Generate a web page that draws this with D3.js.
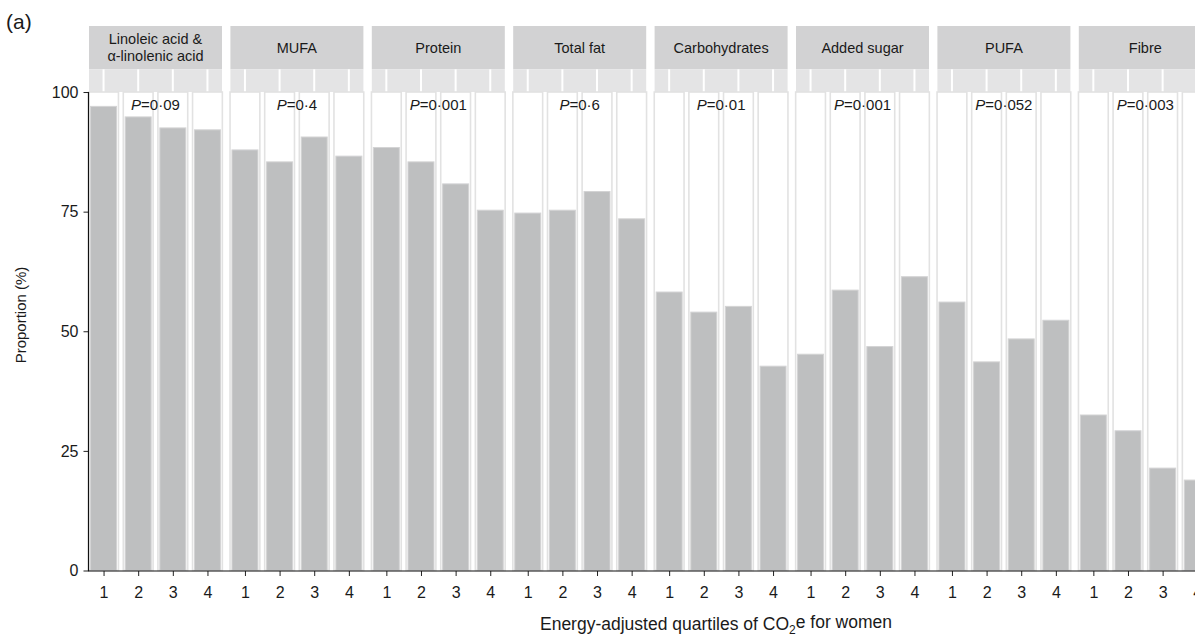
<!DOCTYPE html>
<html>
<head>
<meta charset="utf-8">
<script src="https://cdn.jsdelivr.net/npm/d3@7"></script>
<style>
  body { margin: 0; background: #fff; }
  svg { display: block; font-family: "Liberation Sans", Arial, Helvetica, sans-serif; }
</style>
</head>
<body>
<svg id="chart" width="1195" height="636"></svg>
<script>
// Data (proportion %, by energy-adjusted CO2e quartile)
const nutrients = ["Linoleic acid &|\u03b1-linolenic acid", "MUFA", "Protein", "Total fat",
                   "Carbohydrates", "Added sugar", "PUFA", "Fibre"];
const quartiles = ["1", "2", "3", "4"];
const linoleic = [97.0, 94.8, 92.5, 92.1];
const mufa = [87.9, 85.4, 90.6, 86.6];
const protein = [88.4, 85.4, 80.8, 75.3];
const totalFat = [74.7, 75.3, 79.2, 73.5];
const carbohydrates = [58.2, 54.0, 55.2, 42.7];
const addedSugar = [45.2, 58.6, 46.8, 61.4];
const pufa = [56.1, 43.6, 48.4, 52.3];
const fibre = [32.5, 29.2, 21.4, 18.9];
const pValues = ["0\u00b709", "0\u00b74", "0\u00b7001", "0\u00b76", "0\u00b701", "0\u00b7001", "0\u00b7052", "0\u00b7003"];
const yTicks = [0, 25, 50, 75, 100];

const seriesValues = [linoleic, mufa, protein, totalFat, carbohydrates, addedSugar, pufa, fibre];

// Layout
const PANEL_LEFT = 89;
const FACET_STEP = 141.4;
const PANEL_W = 133;
const STRIP_TOP = 26;
const PANEL_TOP = 69.3;
const PANEL_BOTTOM = 570.5;

const svg = d3.select("#chart");

const facetX = d3.scaleBand()
    .domain(nutrients)
    .range([PANEL_LEFT, PANEL_LEFT + FACET_STEP * nutrients.length - (FACET_STEP - PANEL_W)])
    .paddingInner((FACET_STEP - PANEL_W) / FACET_STEP)
    .paddingOuter(0);

const xInner = d3.scalePoint()
    .domain(quartiles)
    .range([0, facetX.bandwidth()])
    .padding(0.42);

const y = d3.scaleLinear()
    .domain([0, 104.75])
    .range([PANEL_BOTTOM, PANEL_TOP]);

const step = xInner.step();
const boxW = step * 0.86;
const barW = step * 0.75;

nutrients.forEach((name, i) => drawFacet(name, seriesValues[i], pValues[i]));
drawAxes();
drawLabels();

function drawFacet(name, values, pValue) {
    const g = svg.append("g").attr("transform", `translate(${facetX(name)},0)`);
    const w = facetX.bandwidth();

    // strip
    g.append("rect")
        .attr("x", 0).attr("y", STRIP_TOP)
        .attr("width", w).attr("height", PANEL_TOP - STRIP_TOP)
        .attr("fill", "#d2d2d3");
    const lines = name.split("|");
    const mid = (STRIP_TOP + PANEL_TOP) / 2;
    lines.forEach((line, k) => {
        g.append("text")
            .attr("x", w / 2)
            .attr("y", mid + (k - (lines.length - 1) / 2) * 16.5)
            .attr("dy", "0.35em")
            .attr("text-anchor", "middle")
            .attr("font-size", 14.5)
            .attr("fill", "#1a1a1a")
            .text(line);
    });

    // grey band above 100 %
    g.append("rect")
        .attr("x", 0).attr("y", PANEL_TOP)
        .attr("width", w).attr("height", y(100) - PANEL_TOP)
        .attr("fill", "#e4e4e5");
    g.selectAll("line.grid")
        .data(quartiles)
        .join("line")
        .attr("class", "grid")
        .attr("x1", d => xInner(d)).attr("x2", d => xInner(d))
        .attr("y1", PANEL_TOP).attr("y2", y(100))
        .attr("stroke", "#fff").attr("stroke-width", 2);

    // full-height white boxes
    g.selectAll("rect.box")
        .data(quartiles)
        .join("rect")
        .attr("class", "box")
        .attr("x", d => xInner(d) - boxW / 2)
        .attr("y", y(100))
        .attr("width", boxW)
        .attr("height", y(0) - y(100))
        .attr("fill", "#fff")
        .attr("stroke", "#e2e2e2")
        .attr("stroke-width", 1.6);

    // bars
    g.selectAll("rect.bar")
        .data(values)
        .join("rect")
        .attr("class", "bar")
        .attr("x", (d, j) => xInner(quartiles[j]) - barW / 2)
        .attr("y", d => y(d))
        .attr("width", barW)
        .attr("height", d => y(0) - y(d))
        .attr("fill", "#bebfc0")
        .attr("stroke", "#d3d3d4")
        .attr("stroke-width", 1);

    // P value
    const px = (xInner("2") + xInner("3")) / 2;
    const t = g.append("text")
        .attr("x", px)
        .attr("y", y(97.3))
        .attr("dy", "0.35em")
        .attr("text-anchor", "middle")
        .attr("font-size", 15)
        .attr("fill", "#1a1a1a");
    t.append("tspan").attr("font-style", "italic").text("P");
    t.append("tspan").text("=" + pValue);
}

function drawAxes() {
    const yAxis = svg.append("g")
        .attr("transform", `translate(${PANEL_LEFT - 0.5},0)`)
        .call(d3.axisLeft(y).tickValues(yTicks).tickSize(5).tickPadding(5));
    yAxis.select(".domain").remove();
    yAxis.selectAll("text").attr("font-size", 16).attr("fill", "#1a1a1a").attr("font-family", null);
    yAxis.selectAll(".tick line").attr("stroke", "#222");
    svg.append("line")
        .attr("x1", PANEL_LEFT - 0.5).attr("x2", PANEL_LEFT - 0.5)
        .attr("y1", y(0) + 0.5).attr("y2", y(100))
        .attr("stroke", "#111").attr("stroke-width", 1.2);

    nutrients.forEach(name => {
        const xa = svg.append("g")
            .attr("transform", `translate(${facetX(name)},${y(0) + 0.5})`)
            .call(d3.axisBottom(xInner).tickSize(5).tickPadding(10.5));
        xa.select(".domain").remove();
        xa.selectAll("text").attr("font-size", 16).attr("fill", "#1a1a1a").attr("font-family", null);
        xa.selectAll(".tick line").attr("stroke", "#222");
    });
    svg.append("line")
        .attr("x1", PANEL_LEFT - 1).attr("x2", 1195)
        .attr("y1", y(0) + 0.5).attr("y2", y(0) + 0.5)
        .attr("stroke", "#111").attr("stroke-width", 1.2);
}

function drawLabels() {
    svg.append("text")
        .attr("x", 6).attr("y", 29)
        .attr("font-size", 21)
        .attr("fill", "#1a1a1a")
        .text("(a)");

    svg.append("text")
        .attr("transform", "translate(20.5,315) rotate(-90)")
        .attr("dy", "0.35em")
        .attr("text-anchor", "middle")
        .attr("font-size", 15)
        .attr("fill", "#1a1a1a")
        .text("Proportion (%)");

    const xt = svg.append("text")
        .attr("x", 716).attr("y", 630)
        .attr("text-anchor", "middle")
        .attr("font-size", 17.5)
        .attr("fill", "#1a1a1a");
    xt.append("tspan").text("Energy-adjusted quartiles of CO");
    xt.append("tspan").attr("font-size", 12).attr("dy", "0.35em").text("2");
    xt.append("tspan").attr("dy", "-0.35em").text("e for women");
}
</script>
</body>
</html>
